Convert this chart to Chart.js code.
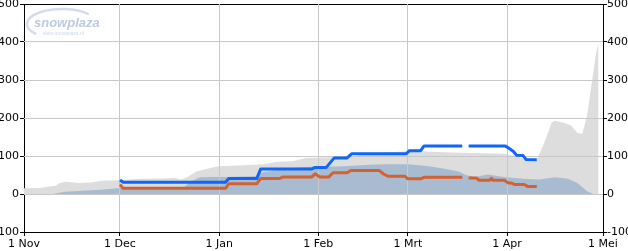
<!DOCTYPE html>
<html><head><meta charset="utf-8">
<script src="https://cdn.jsdelivr.net/npm/chart.js@4.4.0/dist/chart.umd.min.js"></script>
<style>html,body{margin:0;padding:0;background:#fff;overflow:hidden}#wrap{width:628px;height:251px;position:relative}</style>
</head><body><div id="wrap"><canvas id="c" width="628" height="251"></canvas></div>
<script>
// Axis categories (day index from 1 Nov) and labels
const monthDays = [0, 30, 61, 92, 120, 151, 181];
const monthLabels = ['1 Nov', '1 Dec', '1 Jan', '1 Feb', '1 Mrt', '1 Apr', '1 Mei'];
const yTicks = [-100, 0, 100, 200, 300, 400, 500];

// Light grey area (maximum)
const grayDays = [0,5,8,10,11,13,17,21,24,30,36,44,47,49,51,54,59,61,67,75,79,84,88,93,102,109,122,131,140,150,154,158,160,162,164,165,166,169,171,173,174.5,176,177.5,178.7,179.6];
const grayVals = [15,16,20,22,28,32,29,30,35,36,40,41,43,38,44,60,70,73,75,78,85,86,95,96,98,108,113,110,108,106,99,87,86,122,165,189,193,187,180,161,158,205,293,363,400];

// Blue-grey area (average)
const avgDays = [0,9,11,13,20,25,30,40,48,50,52,55,58,63,72,75,78,82,88,95,100,108,113,120,126,131,136,138,141,145,150,156,161,166,170,173,176,178];
const avgVals = [0,0,3,6,9,12,16,15,16,18,32,44,45,45,47,58,62,68,71,72,73,77,78,78,74,67,59,50,45,51,45,40,38,44,40,29,7,0];

// Blue line (mountain)
const blueDays = [30,31,63,64,72.8,74,90,91,94.5,97,101,102.5,119.5,120.5,124,125,137,138,139,150.5,151.5,153,154,156,157,160.3];
const blueVals = [37,31,31,41,41,66,66,70,70,95,95,106,106,114,114,126,126,null,126,126,121,112,102,101,91,90];

// Orange line (valley)
const orangeDays = [30,31,63,64,72.8,74,80,81,90,91,92.5,95.3,96.6,101,102.2,111,112.5,113.8,119,120,124,125,137,138,139,141.4,142.3,145.5,146.1,146.7,150.2,151.4,152.4,153.3,156.4,157.4,160.3];
const orangeVals = [25,15,15,27,27,41,41,45,45,53,45,45,56,56,62,62,52,47,47,40,40,44,44,null,42,42,36,36,41,36,36,29,29,25,25,20,20];

function pts(d, v) { return d.map((x, i) => ({ x: x, y: v[i] })); }

const FONT = { family: '"DejaVu Sans", Verdana, sans-serif', size: 11 };
const GRID = '#c8c8c8';

function align(p) { return Math.round(p - 0.5) + 0.5; }

const gridOver = {
  id: 'gridOver',
  afterDatasetDraw(chart, args) {
    if (args.index !== 2) return;
    const { ctx, chartArea: a, scales } = chart;
    const x = scales.x, y = scales.y;
    ctx.save();
    ctx.strokeStyle = GRID; ctx.lineWidth = 1;
    ctx.beginPath();
    monthDays.slice(1, -1).forEach(d => {
      const px = align(x.getPixelForValue(d));
      ctx.moveTo(px, a.top); ctx.lineTo(px, a.bottom);
    });
    [0, 100, 200, 300, 400].forEach(v => {
      const py = align(y.getPixelForValue(v));
      ctx.moveTo(a.left, py); ctx.lineTo(a.right, py);
    });
    ctx.stroke();
    ctx.restore();
  }
};

const logo = {
  id: 'logo',
  afterDraw(chart) {
    const ctx = chart.ctx;
    ctx.save();
    ctx.strokeStyle = '#d3dde9';
    ctx.lineWidth = 2.5;
    ctx.beginPath();
    ctx.ellipse(62, 24, 35, 15, 0, -0.7, 2.4, true);
    ctx.stroke();
    ctx.fillStyle = '#bccbdf';
    ctx.font = 'italic bold 13px "Liberation Sans", Arial, sans-serif';
    ctx.textBaseline = 'alphabetic';
    ctx.fillText('snowplaza', 34, 27);
    ctx.fillStyle = '#cdd8e6';
    ctx.font = '5px "Liberation Sans", Arial, sans-serif';
    ctx.fillText('www.snowplaza.nl', 43, 35);
    ctx.restore();
  }
};

function setTicks(scale) { scale.ticks = yTicks.map(v => ({ value: v })); }

new Chart(document.getElementById('c'), {
  type: 'line',
  data: {
    datasets: [
      { label: 'blue', data: pts(blueDays, blueVals), borderColor: '#0f66fa', borderWidth: 3, pointRadius: 0, fill: false, spanGaps: false, borderJoinStyle: 'round', tension: 0 },
      { label: 'orange', data: pts(orangeDays, orangeVals), borderColor: '#d4622e', borderWidth: 3, pointRadius: 0, fill: false, spanGaps: false, borderJoinStyle: 'round', tension: 0 },
      { label: 'avg', data: pts(avgDays, avgVals), borderWidth: 0, borderColor: 'rgba(0,0,0,0)', backgroundColor: '#a9bbd0', pointRadius: 0, fill: 'origin', tension: 0 },
      { label: 'max', data: pts(grayDays, grayVals), borderWidth: 0, borderColor: 'rgba(0,0,0,0)', backgroundColor: '#dddddd', pointRadius: 0, fill: 'origin', tension: 0 }
    ]
  },
  options: {
    responsive: false,
    animation: false,
    devicePixelRatio: 1,
    layout: { padding: { top: 4, left: 0, right: 0, bottom: 0 } },
    plugins: { legend: { display: false }, tooltip: { enabled: false }, title: { display: false } },
    scales: {
      x: {
        type: 'linear', position: 'bottom', min: 0, max: 181,
        afterBuildTicks: s => { s.ticks = monthDays.map(v => ({ value: v })); },
        ticks: { callback: v => monthLabels[monthDays.indexOf(v)], font: FONT, color: '#000', maxRotation: 0, autoSkip: false, padding: 2 },
        grid: { color: GRID, tickColor: '#000', tickLength: 4, lineWidth: 1 },
        border: { color: '#000', width: 1 },
        afterFit: s => { s.height = 19; s.paddingLeft = 0; s.paddingRight = 0; }
      },
      y: {
        type: 'linear', position: 'left', min: -100, max: 500,
        afterBuildTicks: setTicks,
        ticks: { font: FONT, color: '#000', padding: 1 },
        grid: { color: c => (c.tick && c.tick.value === 500) ? '#000' : GRID, tickColor: '#000', tickLength: 4, lineWidth: 1 },
        border: { color: '#000', width: 1 },
        afterFit: s => { s.width = 24; s.paddingTop = 0; s.paddingBottom = 0; }
      },
      y2: {
        type: 'linear', position: 'right', min: -100, max: 500,
        afterBuildTicks: setTicks,
        ticks: { font: FONT, color: '#000', padding: 0 },
        grid: { drawOnChartArea: false, tickColor: '#000', tickLength: 4, lineWidth: 1 },
        border: { color: '#000', width: 1 },
        afterFit: s => { s.width = 25; s.paddingTop = 0; s.paddingBottom = 0; }
      }
    }
  },
  plugins: [gridOver, logo]
});
</script>
</body></html>
